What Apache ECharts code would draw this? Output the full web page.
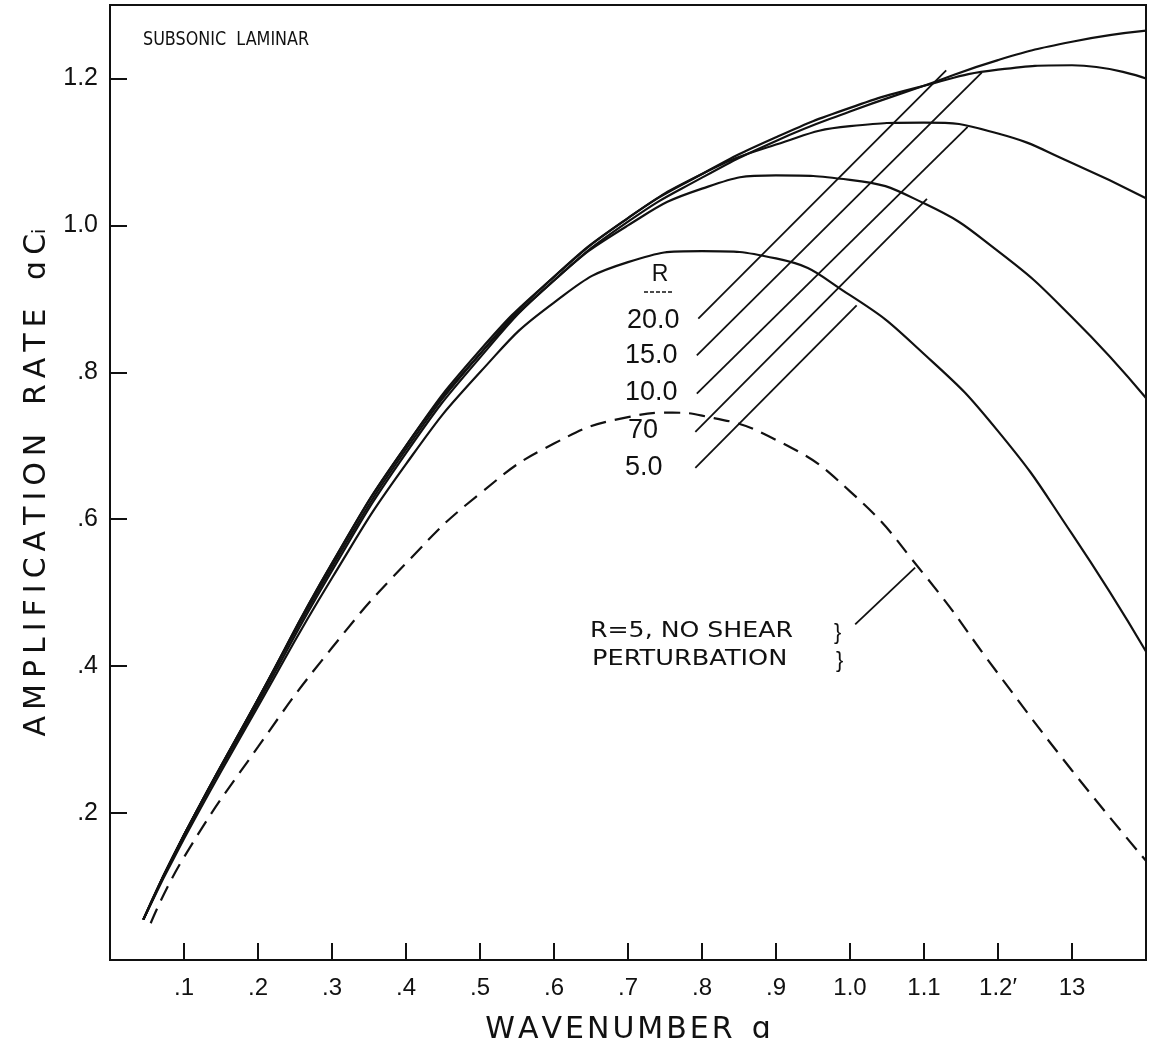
<!DOCTYPE html>
<html>
<head>
<meta charset="utf-8">
<script src="https://cdn.jsdelivr.net/npm/echarts@6/dist/echarts.min.js"></script>
<style>
html,body{margin:0;padding:0;background:#fff;}
#chart{width:1164px;height:1059px;}
</style>
</head>
<body>
<div id="chart"></div>
<script>
// ---- data ----
const waveNumbers = [0.045, 0.1, 0.2, 0.3, 0.4, 0.5, 0.6, 0.7, 0.8, 0.9, 1.0, 1.1, 1.2, 1.3, 1.4];
const r20 = [0.055, 0.17, 0.355, 0.54, 0.70, 0.825, 0.925, 1.005, 1.065, 1.115, 1.155, 1.19, 1.225, 1.25, 1.265];
const r15 = [0.055, 0.17, 0.355, 0.54, 0.70, 0.83, 0.93, 1.01, 1.07, 1.12, 1.16, 1.19, 1.212, 1.218, 1.20];
const r10 = [0.055, 0.17, 0.355, 0.535, 0.695, 0.825, 0.93, 1.01, 1.07, 1.11, 1.135, 1.14, 1.125, 1.085, 1.037];
const r7  = [0.055, 0.17, 0.35, 0.53, 0.69, 0.82, 0.925, 1.0, 1.05, 1.068, 1.062, 1.03, 0.965, 0.875, 0.765];
const r5  = [0.055, 0.165, 0.345, 0.52, 0.675, 0.80, 0.895, 0.95, 0.965, 0.955, 0.905, 0.825, 0.72, 0.58, 0.42];
const noShearA = [0.055, 0.1, 0.2, 0.3, 0.4, 0.5, 0.6, 0.7, 0.76, 0.8, 0.9, 1.0, 1.1, 1.2, 1.3, 1.4];
const noShear  = [0.05, 0.14, 0.29, 0.425, 0.54, 0.635, 0.703, 0.739, 0.745, 0.741, 0.708, 0.638, 0.525, 0.39, 0.258, 0.135];

const xTicks = [0.1,0.2,0.3,0.4,0.5,0.6,0.7,0.8,0.9,1.0,1.1,1.2,1.3];
const xTickLabels = ['.1','.2','.3','.4','.5','.6','.7','.8','.9','1.0','1.1','1.2\u2032','13'];
const yTicks = [0.2,0.4,0.6,0.8,1.0,1.2];
const yTickLabels = ['.2','.4','.6','.8','1.0','1.2'];

// leader lines (data coordinates): [a1, v1, a2, v2]
const leaderLines = [
  [0.795, 0.873, 1.130, 1.211],
  [0.793, 0.823, 1.178, 1.208],
  [0.793, 0.771, 1.159, 1.134],
  [0.791, 0.719, 1.104, 1.036],
  [0.791, 0.670, 1.009, 0.891],
  [1.007, 0.457, 1.088, 0.534]
];

const zip = (xs, ys) => xs.map((x, i) => [x, ys[i]]);
const spaced = (s, sp) => s.split('').join(sp);
const FONT = '"Liberation Sans", "DejaVu Sans", sans-serif';

const chart = echarts.init(document.getElementById('chart'));
const solid = (name, ys) => ({
  name, type: 'line', data: zip(waveNumbers, ys), smooth: 0.5, symbol: 'none',
  lineStyle: { color: '#111', width: 2.2 }, z: 3
});

chart.setOption({
  animation: false,
  backgroundColor: '#fff',
  grid: { left: 110, right: 18, top: 5, bottom: 99, show: true, borderColor: '#111', borderWidth: 2, backgroundColor: 'transparent' },
  xAxis: {
    type: 'value', min: 0, max: 1.4,
    name: spaced('WAVENUMBER', '\u200A') + '  \u0251', nameLocation: 'middle', nameGap: 55,
    nameTextStyle: { fontFamily: '"DejaVu Sans", sans-serif', fontSize: 30, color: '#111' },
    axisLine: { show: true, lineStyle: { color: '#111', width: 2 } },
    axisTick: { show: true, inside: true, length: 17, customValues: xTicks, lineStyle: { color: '#111', width: 2 } },
    axisLabel: { fontFamily: FONT, fontSize: 24, color: '#111', margin: 16,
      customValues: xTicks,
      formatter: v => { const i = xTicks.findIndex(t => Math.abs(t - v) < 1e-6); return i >= 0 ? xTickLabels[i] : ''; } },
    splitLine: { show: false }
  },
  yAxis: {
    type: 'value', min: 0, max: 1.3,
    name: spaced('AMPLIFICATION', '\u2009') + '   ' + spaced('RATE', '\u2009') + '   \u0251\u2009C\u1d62',
    nameLocation: 'middle', nameGap: 54, nameRotate: 90,
    nameTextStyle: { fontFamily: '"DejaVu Sans", sans-serif', fontSize: 30, color: '#111' },
    axisLine: { show: true, lineStyle: { color: '#111', width: 2 } },
    axisTick: { show: true, inside: true, length: 17, customValues: yTicks, lineStyle: { color: '#111', width: 2 } },
    axisLabel: { fontFamily: FONT, fontSize: 25, color: '#111', margin: 12,
      customValues: yTicks,
      formatter: v => { const i = yTicks.findIndex(t => Math.abs(t - v) < 1e-6); return i >= 0 ? yTickLabels[i] : ''; } },
    splitLine: { show: false }
  },
  series: [
    solid('R=20.0', r20),
    solid('R=15.0', r15),
    solid('R=10.0', r10),
    solid('R=7.0', r7),
    solid('R=5.0', r5),
    {
      name: 'R=5, no shear perturbation', type: 'line', data: zip(noShearA, noShear), smooth: 0.5, symbol: 'none',
      lineStyle: { color: '#111', width: 2.2, type: [16, 9] }, z: 3
    },
    {
      name: 'leaders', type: 'line', data: [], symbol: 'none',
      markLine: {
        silent: true, symbol: 'none', label: { show: false },
        lineStyle: { color: '#111', width: 1.8, type: 'solid' },
        data: leaderLines.map(l => [{ coord: [l[0], l[1]] }, { coord: [l[2], l[3]] }])
      }
    }
  ],
  graphic: [
    { type: 'text', x: 143, y: 40, scaleX: 0.8, style: { text: 'SUBSONIC  LAMINAR', font: '20px "DejaVu Sans", sans-serif', fill: '#111', verticalAlign: 'middle' } },
    { type: 'text', x: 660, y: 275, style: { text: 'R', font: '23px ' + FONT, fill: '#111', align: 'center', verticalAlign: 'middle' } },
    { type: 'line', shape: { x1: 644, y1: 292, x2: 673, y2: 292 }, style: { stroke: '#111', lineWidth: 1.5, lineDash: [4, 2] } },
    { type: 'text', x: 627, y: 321, style: { text: '20.0', font: '27px ' + FONT, fill: '#111', verticalAlign: 'middle' } },
    { type: 'text', x: 625, y: 356, style: { text: '15.0', font: '27px ' + FONT, fill: '#111', verticalAlign: 'middle' } },
    { type: 'text', x: 625, y: 393, style: { text: '10.0', font: '27px ' + FONT, fill: '#111', verticalAlign: 'middle' } },
    { type: 'text', x: 628, y: 431, style: { text: '70', font: '27px ' + FONT, fill: '#111', verticalAlign: 'middle' } },
    { type: 'text', x: 625, y: 468, style: { text: '5.0', font: '27px ' + FONT, fill: '#111', verticalAlign: 'middle' } },
    { type: 'text', x: 590, y: 632, scaleX: 1.2, style: { text: 'R=5, NO SHEAR', font: '21px "DejaVu Sans", sans-serif', fill: '#111', verticalAlign: 'middle' } },
    { type: 'text', x: 592, y: 660, scaleX: 1.22, style: { text: 'PERTURBATION', font: '21px "DejaVu Sans", sans-serif', fill: '#111', verticalAlign: 'middle' } },
    { type: 'text', x: 834, y: 633, style: { text: '}', font: '22px ' + FONT, fill: '#111', verticalAlign: 'middle' } },
    { type: 'text', x: 836, y: 661, style: { text: '}', font: '22px ' + FONT, fill: '#111', verticalAlign: 'middle' } }
  ]
});
</script>
</body>
</html>
